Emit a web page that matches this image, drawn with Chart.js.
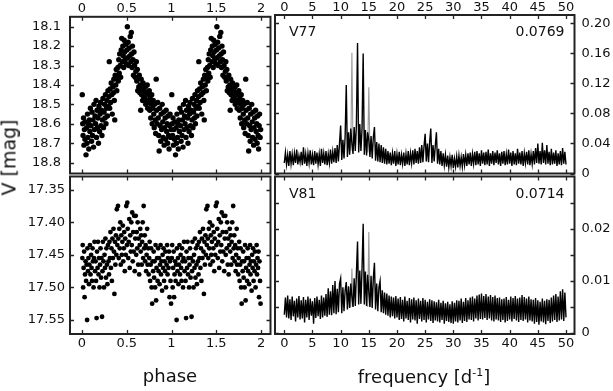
<!DOCTYPE html>
<html>
<head>
<meta charset="utf-8">
<script src="https://cdn.jsdelivr.net/npm/chart.js@4.4.1/dist/chart.umd.min.js"></script>
<style>
  html, body { margin: 0; padding: 0; background: #fff; }
  #wrap { position: relative; width: 613px; height: 391px; overflow: hidden; background: #fff; }
  #wrap canvas { position: absolute; left: 0; top: 0; }
  .ttl { position: absolute; font-family: 'DejaVu Sans', sans-serif; color: #111; white-space: nowrap; text-align: center; }
</style>
</head>
<body>
<div id="wrap">
  <canvas id="cTL" width="613" height="391"></canvas>
  <canvas id="cBL" width="613" height="391"></canvas>
  <canvas id="cTR" width="613" height="391"></canvas>
  <canvas id="cBR" width="613" height="391"></canvas>
  <div class="ttl" style="left:120px;top:367px;width:100px;font-size:18px;line-height:18px;">phase</div>
  <div class="ttl" style="left:324px;top:368px;width:200px;font-size:18px;line-height:18px;">frequency [d<sup style="font-size:11px;line-height:0;vertical-align:7px;">-1</sup>]</div>
  <div class="ttl" style="left:-41px;top:148px;width:100px;font-size:19px;line-height:19px;transform:rotate(-90deg);">V [mag]</div>
</div>
<script>
// ---------------- tick values / labels ----------------
const phaseTicks = [0, 0.5, 1, 1.5, 2];
const phaseLabels = ['0', '0.5', '1', '1.5', '2'];
const freqTicks = [0, 5, 10, 15, 20, 25, 30, 35, 40, 45, 50];
const freqLabels = ['0', '5', '10', '15', '20', '25', '30', '35', '40', '45', '50'];
const v77MagTicks = [18.1, 18.2, 18.3, 18.4, 18.5, 18.6, 18.7, 18.8];
const v77MagLabels = ['18.1', '18.2', '18.3', '18.4', '18.5', '18.6', '18.7', '18.8'];
const v81MagTicks = [17.35, 17.40, 17.45, 17.50, 17.55];
const v81MagLabels = ['17.35', '17.40', '17.45', '17.50', '17.55'];
const v77AmpTicks = [0, 0.04, 0.08, 0.12, 0.16, 0.20];
const v77AmpLabels = ['0', '0.04', '0.08', '0.12', '0.16', '0.20'];
const v81AmpTicks = [0, 0.005, 0.01, 0.015, 0.02, 0.025];
const v81AmpLabels = ['0', '', '0.01', '', '0.02', ''];

// ---------------- V77 phased light curve (one cycle, plotted twice) ----------------
const v77Phase = [
.003,.008,.012,.017,.022,.027,.033,.038,.045,
.052,.056,.061,.066,.071,.076,.082,.088,.094,
.102,.107,.112,.118,.123,.129,.134,.140,.146,
.152,.157,.162,.168,.173,.179,.184,.190,.196,
.202,.207,.212,.218,.223,.229,.234,.240,.246,
.252,.257,.262,.268,.273,.279,.284,.290,.296,
.302,.305,.309,.314,.320,.326,.332,.338,.344,
.352,.356,.361,.366,.371,.377,.383,.389,.395,
.402,.406,.411,.416,.421,.427,.432,.438,.444,
.452,.456,.461,.466,.471,.476,.482,.488,.494,
.502,.507,.511,.516,.521,.527,.533,.539,.546,
.551,.554,.559,.564,.570,.575,.581,.587,.594,
.602,.607,.612,.618,.623,.629,.634,.640,.646,
.652,.656,.661,.666,.671,.677,.682,.688,.694,
.702,.707,.712,.718,.723,.729,.734,.740,.746,
.752,.757,.762,.768,.773,.779,.784,.790,.796,
.802,.807,.812,.818,.823,.829,.834,.840,.846,
.852,.857,.862,.868,.873,.879,.884,.890,.896,
.902,.907,.912,.918,.923,.929,.934,.940,.946,
.952,.957,.962,.968,.973,.979,.984,.990,.996];
const v77Mag = [
18.45,18.60,18.66,18.57,18.71,18.63,18.68,18.59,18.76,
18.62,18.70,18.55,18.67,18.60,18.73,18.58,18.64,18.52,
18.61,18.69,18.54,18.66,18.58,18.72,18.50,18.63,18.56,
18.60,18.48,18.67,18.53,18.62,18.57,18.70,18.51,18.64,
18.55,18.49,18.61,18.53,18.66,18.58,18.47,18.62,18.54,
18.50,18.57,18.45,18.60,18.52,18.48,18.56,18.43,18.51,
18.46,18.28,18.52,18.42,18.49,18.39,18.45,18.55,18.41,
18.44,18.37,18.48,18.58,18.35,18.40,18.32,18.43,18.36,
18.31,18.38,18.27,18.34,18.24,18.30,18.36,18.22,18.16,
18.28,18.20,18.25,18.31,18.17,18.23,18.27,18.19,18.29,
18.22,18.10,18.26,18.18,18.30,18.21,18.25,18.15,18.28,
18.13,18.24,18.31,18.20,18.27,18.35,18.23,18.30,18.36,
18.33,18.28,18.38,18.32,18.43,18.36,18.41,18.35,18.44,
18.40,18.53,18.37,18.45,18.42,18.48,18.39,18.46,18.43,
18.47,18.41,18.50,18.44,18.48,18.40,18.52,18.45,18.49,
18.43,18.53,18.47,18.57,18.50,18.45,18.60,18.52,18.48,
18.55,18.62,18.50,18.58,18.65,18.37,18.53,18.60,18.49,
18.57,18.66,18.74,18.52,18.61,18.69,18.55,18.63,18.50,
18.59,18.67,18.54,18.71,18.62,18.57,18.68,18.53,18.64,
18.60,18.70,18.56,18.66,18.73,18.61,18.55,18.67,18.63];

// ---------------- V81 phased light curve (one cycle, plotted twice) ----------------
const v81Phase = [
.004,.008,.013,.018,.024,.029,.034,.040,.046,
.052,.057,.061,.067,.072,.078,.083,.089,.095,
.102,.107,.112,.118,.123,.129,.134,.140,.146,
.152,.157,.163,.168,.174,.179,.185,.190,.196,
.202,.207,.213,.218,.224,.229,.234,.240,.246,
.252,.257,.262,.268,.273,.279,.284,.290,.296,
.302,.307,.312,.318,.323,.329,.334,.340,.346,
.352,.357,.362,.368,.373,.379,.384,.389,.395,
.402,.406,.411,.417,.422,.428,.433,.439,.445,
.451,.456,.461,.467,.472,.478,.483,.489,.495,
.502,.506,.511,.517,.522,.528,.533,.539,.545,
.551,.556,.561,.567,.572,.578,.583,.589,.595,
.601,.606,.611,.617,.622,.628,.633,.639,.645,
.651,.656,.661,.667,.672,.678,.683,.689,.695,
.701,.706,.711,.717,.722,.728,.733,.739,.745,
.751,.756,.761,.767,.772,.778,.784,.789,.795,
.801,.806,.811,.817,.822,.828,.833,.839,.845,
.851,.856,.861,.867,.872,.878,.883,.889,.895,
.901,.906,.911,.917,.922,.928,.933,.939,.945,
.951,.956,.961,.967,.972,.978,.983,.989,.995];
const v81Mag = [
17.455,17.435,17.500,17.470,17.445,17.515,17.480,17.460,17.490,
17.465,17.550,17.440,17.475,17.455,17.495,17.465,17.435,17.480,
17.450,17.470,17.490,17.440,17.460,17.500,17.455,17.430,17.475,
17.460,17.490,17.547,17.445,17.470,17.430,17.480,17.455,17.500,
17.465,17.440,17.485,17.455,17.545,17.475,17.430,17.460,17.500,
17.450,17.470,17.425,17.485,17.440,17.465,17.495,17.435,17.460,
17.480,17.430,17.455,17.415,17.470,17.440,17.490,17.425,17.455,
17.410,17.445,17.510,17.430,17.465,17.420,17.450,17.380,17.435,
17.375,17.425,17.455,17.410,17.440,17.400,17.465,17.420,17.450,
17.430,17.405,17.460,17.440,17.415,17.475,17.425,17.450,17.375,
17.435,17.370,17.410,17.455,17.430,17.395,17.470,17.420,17.445,
17.400,17.435,17.385,17.460,17.415,17.445,17.390,17.475,17.425,
17.390,17.450,17.415,17.440,17.400,17.465,17.425,17.480,17.435,
17.410,17.445,17.420,17.465,17.430,17.400,17.455,17.375,17.440,
17.420,17.460,17.435,17.475,17.450,17.410,17.465,17.440,17.480,
17.455,17.430,17.490,17.465,17.440,17.500,17.525,17.460,17.475,
17.445,17.485,17.460,17.500,17.435,17.520,17.470,17.455,17.490,
17.440,17.475,17.455,17.495,17.465,17.435,17.480,17.460,17.505,
17.450,17.470,17.440,17.490,17.460,17.475,17.445,17.500,17.465,
17.435,17.480,17.455,17.470,17.445,17.515,17.460,17.490,17.525];

// ---------------- amplitude spectra (frequency grid 0..50 d^-1, step 0.2) ----------------
const freqStep = 0.2;
const v77Amp = [
.014,.028,.012,.025,.010,
.030,.013,.026,.011,.027,
.014,.032,.012,.024,.015,
.029,.011,.035,.013,.026,
.010,.027,.014,.031,.012,
.025,.011,.030,.013,.028,
.012,.026,.010,.033,.014,
.027,.012,.030,.011,.026,
.014,.032,.013,.029,.015,
.034,.014,.038,.016,.040,
.064,.018,.045,.020,.050,
.118,.022,.055,.025,.060,
.040,.026,.062,.030,.065,
.174,.028,.066,.030,.060,
.160,.025,.058,.024,.055,
.045,.022,.050,.020,.048,
.062,.017,.042,.016,.040,
.015,.038,.014,.035,.013,
.033,.012,.030,.013,.028,
.011,.027,.013,.030,.010,
.026,.012,.029,.011,.025,
.013,.028,.010,.026,.012,
.030,.011,.027,.014,.031,
.012,.033,.014,.030,.013,
.035,.014,.038,.015,.036,
.053,.016,.040,.015,.042,
.060,.014,.038,.016,.037,
.055,.013,.033,.012,.030,
.010,.027,.011,.025,.009,
.024,.008,.022,.010,.025,
.007,.020,.009,.023,.008,
.024,.010,.022,.009,.026,
.011,.025,.010,.027,.012,
.028,.010,.026,.013,.029,
.011,.030,.012,.027,.010,
.031,.013,.028,.011,.029,
.012,.032,.010,.027,.013,
.030,.011,.028,.014,.031,
.012,.027,.010,.029,.013,
.030,.011,.026,.012,.032,
.013,.028,.010,.030,.012,
.027,.011,.033,.013,.028,
.012,.030,.010,.027,.014,
.029,.012,.031,.011,.026,
.013,.030,.012,.034,.014,
.040,.013,.030,.012,.041,
.014,.031,.012,.038,.013,
.029,.011,.033,.012,.028,
.013,.031,.010,.027,.012,
.030,.011,.034,.013,.029,
.012];
const v77GrayFreq = [11.8, 12.0, 12.2, 13.5, 14.8, 15.0, 15.2];
const v77GrayAmp  = [.030, .161, .030, null, .028, .115, .028];

const v81Amp = [
.0035,.0068,.0030,.0072,.0028,
.0065,.0025,.0070,.0032,.0062,
.0022,.0066,.0030,.0071,.0026,
.0063,.0028,.0069,.0020,.0064,
.0030,.0070,.0025,.0066,.0033,
.0061,.0018,.0067,.0029,.0070,
.0032,.0064,.0027,.0072,.0030,
.0068,.0033,.0075,.0031,.0086,
.0035,.0080,.0034,.0092,.0038,
.0100,.0036,.0085,.0040,.0095,
.0105,.0038,.0088,.0042,.0082,
.0098,.0045,.0090,.0048,.0095,
.0070,.0050,.0105,.0052,.0115,
.0176,.0055,.0120,.0056,.0125,
.0210,.0055,.0118,.0052,.0112,
.0080,.0050,.0110,.0048,.0105,
.0135,.0045,.0095,.0042,.0088,
.0100,.0040,.0082,.0038,.0078,
.0035,.0076,.0033,.0072,.0030,
.0070,.0032,.0068,.0028,.0071,
.0030,.0066,.0025,.0069,.0027,
.0064,.0022,.0070,.0028,.0062,
.0025,.0067,.0020,.0065,.0026,
.0068,.0024,.0063,.0018,.0066,
.0027,.0062,.0022,.0067,.0025,
.0064,.0020,.0060,.0026,.0065,
.0023,.0063,.0019,.0061,.0024,
.0059,.0022,.0064,.0020,.0058,
.0025,.0062,.0018,.0057,.0023,
.0060,.0021,.0055,.0019,.0061,
.0018,.0058,.0022,.0063,.0020,
.0062,.0024,.0066,.0019,.0060,
.0023,.0067,.0021,.0063,.0026,
.0068,.0025,.0070,.0022,.0066,
.0028,.0072,.0024,.0074,.0027,
.0076,.0026,.0071,.0029,.0075,
.0025,.0070,.0028,.0073,.0024,
.0069,.0022,.0072,.0026,.0067,
.0024,.0068,.0021,.0065,.0025,
.0066,.0020,.0069,.0023,.0064,
.0026,.0070,.0022,.0067,.0027,
.0071,.0024,.0066,.0021,.0068,
.0025,.0073,.0023,.0069,.0026,
.0066,.0020,.0070,.0024,.0065,
.0022,.0064,.0018,.0067,.0021,
.0063,.0016,.0060,.0022,.0066,
.0020,.0062,.0017,.0065,.0023,
.0064,.0019,.0068,.0022,.0072,
.0025,.0075,.0021,.0070,.0024,
.0080,.0026,.0084,.0023,.0078,
.0030];
const v81GrayFreq = [11.8, 12.0, 12.2, 13.5, 14.8, 15.0, 15.2];
const v81GrayAmp  = [.0050, .0124, .0050, null, .0050, .0194, .0050];

// ---------------- helpers ----------------
const FONT = 'DejaVu Sans';
const TICK_SIZE = 13;

function folded(ph, mag) {
  const a = ph.map((p, i) => ({ x: p, y: mag[i] }));
  const b = ph.map((p, i) => ({ x: p + 1, y: mag[i] }));
  return a.concat(b);
}
function spectrum(amp) {
  return amp.map((v, i) => ({ x: +(i * freqStep).toFixed(1), y: v }));
}
function pairs(xs, ys) {
  return xs.map((x, i) => ({ x: x, y: ys[i] }));
}

function axis(pos, min, max, vals, labels, size, pad, reverse) {
  return {
    type: 'linear', position: pos, min: min, max: max, reverse: !!reverse,
    grid: { display: false, drawTicks: false },
    border: { display: false },
    ticks: {
      autoSkip: false, maxRotation: 0, minRotation: 0, padding: pad,
      color: '#111', font: { family: FONT, size: TICK_SIZE },
      callback: (v, i) => labels[i]
    },
    afterBuildTicks: s => { s.ticks = vals.map(v => ({ value: v })); },
    afterFit: s => { if (s.isHorizontal()) s.height = size; else s.width = size; }
  };
}

const framePlugin = {
  id: 'frame',
  afterDatasetsDraw(chart, args, o) {
    const ctx = chart.ctx, a = chart.chartArea;
    const xs = chart.scales.x, ys = chart.scales.y;
    const L = 4;
    ctx.save();
    ctx.strokeStyle = '#222';
    ctx.lineWidth = 1.3;
    ctx.beginPath();
    for (const v of o.xt) {
      const px = Math.round(xs.getPixelForValue(v)) + 0.5;
      ctx.moveTo(px, a.top); ctx.lineTo(px, a.top + L);
      ctx.moveTo(px, a.bottom); ctx.lineTo(px, a.bottom - L);
    }
    for (const v of o.yt) {
      const py = Math.round(ys.getPixelForValue(v)) + 0.5;
      ctx.moveTo(a.left, py); ctx.lineTo(a.left + L, py);
      ctx.moveTo(a.right, py); ctx.lineTo(a.right - L, py);
    }
    ctx.stroke();
    ctx.lineWidth = 2;
    ctx.strokeRect(a.left, a.top, a.right - a.left, a.bottom - a.top);
    if (o.tl || o.tr) {
      ctx.fillStyle = '#111';
      ctx.font = '14px "' + FONT + '"';
      ctx.textBaseline = 'alphabetic';
      ctx.textAlign = 'left';
      ctx.fillText(o.tl, a.left + 14, a.top + 21);
      ctx.textAlign = 'right';
      ctx.fillText(o.tr, a.right - 10, a.top + 21);
    }
    ctx.restore();
  }
};

function baseOpts(padding, xs, ys, frame) {
  return {
    responsive: false, animation: false, devicePixelRatio: 1,
    events: [],
    layout: { padding: padding },
    plugins: { legend: { display: false }, tooltip: { enabled: false }, frame: frame },
    scales: { x: xs, y: ys }
  };
}

// Top-left: V77 light curve
new Chart(document.getElementById('cTL'), {
  type: 'scatter',
  data: { datasets: [{ data: folded(v77Phase, v77Mag), pointRadius: 2.7, pointBackgroundColor: '#000', pointBorderWidth: 0, showLine: false }] },
  options: baseOpts({ left: 0, top: 0, right: 342.5, bottom: 217.5 },
    axis('top', -0.134, 2.106, phaseTicks, phaseLabels, 15, 0),
    axis('left', 18.049, 18.856, v77MagTicks, v77MagLabels, 70, 9, true),
    { xt: phaseTicks, yt: v77MagTicks }),
  plugins: [framePlugin]
});

// Bottom-left: V81 light curve
new Chart(document.getElementById('cBL'), {
  type: 'scatter',
  data: { datasets: [{ data: folded(v81Phase, v81Mag), pointRadius: 2.4, pointBackgroundColor: '#000', pointBorderWidth: 0, showLine: false }] },
  options: baseOpts({ left: 0, top: 176.5, right: 342.5, bottom: 37 },
    axis('bottom', -0.134, 2.106, phaseTicks, phaseLabels, 20, 1.5),
    axis('left', 17.3297, 17.5715, v81MagTicks, v81MagLabels, 70, 5, true),
    { xt: phaseTicks, yt: v81MagTicks }),
  plugins: [framePlugin]
});

// Top-right: V77 amplitude spectrum
new Chart(document.getElementById('cTR'), {
  type: 'line',
  data: { datasets: [
    { data: spectrum(v77Amp), borderColor: '#000', borderWidth: 1.4, pointRadius: 0, tension: 0, borderJoinStyle: 'miter', order: 1 },
    { data: pairs(v77GrayFreq, v77GrayAmp), borderColor: '#9a9a9a', borderWidth: 1.1, pointRadius: 0, tension: 0, spanGaps: false, order: 2 }
  ] },
  options: baseOpts({ left: 275, top: 0, right: 0, bottom: 217.5 },
    axis('top', -1.65, 51.51, freqTicks, freqLabels, 15, 0),
    axis('right', 0, 0.2113, v77AmpTicks, v77AmpLabels, 38.5, 7),
    { xt: freqTicks, yt: v77AmpTicks, tl: 'V77', tr: '0.0769' }),
  plugins: [framePlugin]
});

// Bottom-right: V81 amplitude spectrum
new Chart(document.getElementById('cBR'), {
  type: 'line',
  data: { datasets: [
    { data: spectrum(v81Amp), borderColor: '#000', borderWidth: 1.4, pointRadius: 0, tension: 0, borderJoinStyle: 'miter', order: 1 },
    { data: pairs(v81GrayFreq, v81GrayAmp), borderColor: '#9a9a9a', borderWidth: 1.1, pointRadius: 0, tension: 0, spanGaps: false, order: 2 }
  ] },
  options: baseOpts({ left: 275, top: 176.5, right: 0, bottom: 37 },
    axis('bottom', -1.65, 51.51, freqTicks, freqLabels, 20, 1.5),
    axis('right', -0.0002, 0.0301, v81AmpTicks, v81AmpLabels, 38.5, 7),
    { xt: freqTicks, yt: v81AmpTicks, tl: 'V81', tr: '0.0714' }),
  plugins: [framePlugin]
});
</script>
</body>
</html>
